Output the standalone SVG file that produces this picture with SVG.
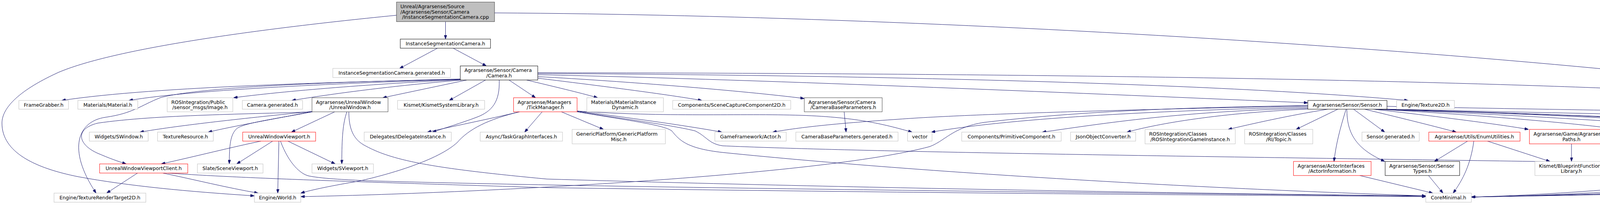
<svg xmlns="http://www.w3.org/2000/svg" width="5562" height="573" viewBox="0 0 5562 573">
<style>
.n rect{fill:#ffffff;stroke:#bfbfbf;stroke-width:1}
.d rect{stroke:#000000}
.g rect{stroke:#404040}
.r rect{stroke:#ff0000}
.root rect{fill:#bfbfbf;stroke:#404040}
text{font-family:"DejaVu Sans","Liberation Sans",sans-serif;font-size:12.6px;fill:#000000}
.m{text-anchor:middle}
#edges path{fill:none;stroke:#191970;stroke-width:1;marker-end:url(#ah)}
</style>
<defs>
<marker id="ah" markerWidth="10" markerHeight="7" refX="10" refY="3.5" orient="auto" markerUnits="userSpaceOnUse"><path d="M0,0L10,3.5L0,7z" fill="#191970" stroke="#191970" stroke-width="1"/></marker>
</defs>
<rect width="5562" height="573" fill="#ffffff"/>
<g id="edges">
<path d="M1140.5,55.3 L1140.5,100"/>
<path d="M1015,39 C600,80 280,130 150,185 C40,235 5,280 5,315 C5,390 90,430 200,452 C330,476 480,490 651,501"/>
<path d="M1266,33 C2500,40 4300,150 5315,331"/>
<path d="M1120,123.3 L1023,175"/>
<path d="M1160,123.3 L1245,168.7"/>
<path d="M1178.3,202 C900,210 400,220 158,257"/>
<path d="M1178.3,203 C900,212 500,228 330,257"/>
<path d="M1178.3,204 C1000,212 750,230 598,250"/>
<path d="M1182,204.7 C1000,220 850,240 747,257"/>
<path d="M1195,204.7 L980,250"/>
<path d="M1178.3,203 C800,210 500,225 410,250 C360,270 340,290 270,300 C200,310 170,380 246,494"/>
<path d="M1243,204.7 L1150,257"/>
<path d="M1278,204.7 C1280,260 1260,285 1220,300 C1180,315 1140,327 1107,338"/>
<path d="M1303,204.7 L1371,250"/>
<path d="M1348,204.7 C1420,222 1480,236 1530,250"/>
<path d="M1376.7,200 C1500,215 1700,240 1797,257"/>
<path d="M1376.7,196 C1600,208 1900,232 2059,252"/>
<path d="M1376.7,191 C2000,205 2800,240 3348,263"/>
<path d="M1376.7,188 C2200,192 3100,212 3605,257"/>
<path d="M1376.7,186 C3000,188 4400,212 5060,287 C5180,302 5245,325 5262,360 C5280,400 5230,430 5103,452 C4900,472 4300,492 3766.7,504"/>
<path d="M800,286 C650,292 400,293 250,315 C190,330 200,370 250,392 C280,405 300,412 323,419.3"/>
<path d="M800,285 C600,305 450,322 358,338"/>
<path d="M800,285 C700,305 600,322 533,338"/>
<path d="M800,286 C700,305 620,315 605,330 C590,345 587,370 587,419.3"/>
<path d="M857,286 L746,338"/>
<path d="M888,286 C878,315 875,350 875,419.3"/>
<path d="M893,286 C893,330 905,355 930,370 C1000,410 1100,430 1400,458 C2200,482 3200,497 3650,501"/>
<path d="M668,361 C600,375 500,400 413,419.3"/>
<path d="M698,361 L606,419.3"/>
<path d="M714,361 L711,494"/>
<path d="M737,361 L858,419.3"/>
<path d="M718,361 C740,420 770,445 790,450 C830,458 900,460 930,462 C1500,480 3000,495 3650,502"/>
<path d="M352,442.7 L273,494"/>
<path d="M417,442.7 C500,460 580,480 661,494"/>
<path d="M430,442.7 C600,455 900,465 1400,480 C2500,496 3300,500 3650,503"/>
<path d="M1330,286 C1250,305 1150,325 1094,338"/>
<path d="M1388,286 L1343,338"/>
<path d="M1437,286 L1545,331"/>
<path d="M1477.3,284 C1600,300 1750,320 1848,338"/>
<path d="M1477.3,284 C1700,300 1900,290 2050,295 C2200,300 2270,320 2335,338"/>
<path d="M1330,286 C1250,305 1200,330 1170,365 C1120,410 1000,445 920,463 C850,475 800,485 770,494"/>
<path d="M1477.3,285 C1600,305 1720,320 1780,335 C1810,350 1815,368 1850,373 C2300,393 3500,405 4834.3,427"/>
<path d="M1477.3,286 C1620,310 1700,320 1720,335 C1740,360 1760,380 1850,390 C2300,436 3000,480 3650,501"/>
<path d="M2161,286 L2166,338"/>
<path d="M3348,270 C3100,274 2800,280 2520,313 C2440,325 2420,360 2380,375 C2100,450 1200,495 770,503"/>
<path d="M3348,271 C3000,278 2500,290 2300,305 C2150,315 2050,325 1978,338"/>
<path d="M3348,274 C3000,282 2600,300 2384,338"/>
<path d="M3348,277 C3000,285 2800,320 2668,338"/>
<path d="M3348,279 C3100,290 2950,320 2885,338"/>
<path d="M3400,279.3 C3300,295 3200,318 3144,331"/>
<path d="M3425,279.3 L3318,331"/>
<path d="M3446,279.3 C3430,330 3420,370 3415,413"/>
<path d="M3448,279.3 C3448,340 3470,380 3545,413"/>
<path d="M3465,279.3 L3545,338"/>
<path d="M3493,279.3 C3600,305 3680,325 3728,338"/>
<path d="M3515,279.3 C3700,300 3850,320 3913,331"/>
<path d="M3520,279 C3800,295 4100,320 4188,338"/>
<path d="M3522,280 C3900,290 4200,300 4350,315 C4400,325 4420,380 4430,419.3"/>
<path d="M3526,279 C3900,295 4300,318 4447,338"/>
<path d="M3530,279 C4000,293 4500,320 4637,338"/>
<path d="M3536,279 C4100,295 4600,318 4823,332"/>
<path d="M3540,279 C4200,295 4900,300 5034,338"/>
<path d="M3550.7,272 C4200,285 4800,290 5060,307 C5180,320 5230,350 5290,400 C5260,407 5150,420 5060,435 C4800,470 4300,495 3766.7,504"/>
<path d="M3481,449 L3668,494"/>
<path d="M3657,449 L3694,494"/>
<path d="M3757,361 L3672,413"/>
<path d="M3773,361 C3765,420 3745,460 3720,494"/>
<path d="M3808,361 L3968,413"/>
<path d="M4023,368 L4023,413"/>
<path d="M5315.3,358 C5000,380 4400,400 4116,424"/>
<path d="M5315.3,363 C5150,380 5050,400 4966,418"/>
<path d="M5406,368 L5452,419.3"/>
<path d="M5380,368 C5330,420 5300,445 5290,452 C5200,465 4800,470 4600,487 C4300,495 4000,500 3766.7,504"/>
<path d="M4900,368 L4900,419.3"/>
<path d="M4857,368 C4750,410 4650,440 4600,448 C4300,485 4000,500 3766.7,504"/>
<path d="M4663,361 C4600,380 4530,400 4470,419.3"/>
<path d="M4685,361 C4650,390 4600,410 4590,418 C4400,470 4000,498 3766.7,504"/>
</g>
<g id="root" class="n root"><rect x="1015" y="5.3" width="251" height="50"/><text x="1025" y="21">Unreal/Agrarsense/Source</text><text x="1025" y="34.6">/Agrarsense/Sensor/Camera</text><text class="m" x="1140.5" y="48.3">/InstanceSegmentationCamera.cpp</text></g>
<g id="isc_h" class="n d"><rect x="1024.7" y="100" width="231" height="23.3"/><text class="m" x="1140.2" y="116">InstanceSegmentationCamera.h</text></g>
<g id="isc_gen" class="n"><rect x="852" y="175" width="301.3" height="23.3"/><text class="m" x="1002.7" y="191">InstanceSegmentationCamera.generated.h</text></g>
<g id="camera_h" class="n d"><rect x="1178.3" y="168.7" width="198.4" height="36"/><text x="1189" y="184.2">Agrarsense/Sensor/Camera</text><text class="m" x="1277.5" y="197.9">/Camera.h</text></g>
<g id="framegrabber" class="n"><rect x="48.3" y="257" width="127" height="22.3"/><text class="m" x="111.8" y="272.5">FrameGrabber.h</text></g>
<g id="material" class="n"><rect x="199.3" y="257" width="153.4" height="22.3"/><text class="m" x="276" y="272.5">Materials/Material.h</text></g>
<g id="image" class="n"><rect x="428" y="250" width="168" height="36"/><text x="438.5" y="265.5">ROSIntegration/Public</text><text class="m" x="512" y="279.2">/sensor_msgs/Image.h</text></g>
<g id="camera_gen" class="n"><rect x="620.3" y="257" width="154.4" height="22.3"/><text class="m" x="697.5" y="272.5">Camera.generated.h</text></g>
<g id="unrealwindow" class="n g"><rect x="798.7" y="250" width="194.6" height="36"/><text x="809" y="265.5">Agrarsense/UnrealWindow</text><text class="m" x="896" y="279.2">/UnrealWindow.h</text></g>
<g id="kismet" class="n"><rect x="1017.7" y="257" width="223" height="22.3"/><text class="m" x="1129.2" y="272.5">Kismet/KismetSystemLibrary.h</text></g>
<g id="tickmanager" class="n r"><rect x="1314.7" y="250" width="162.6" height="36"/><text x="1325" y="265.5">Agrarsense/Managers</text><text class="m" x="1396" y="279.2">/TickManager.h</text></g>
<g id="matinst" class="n"><rect x="1502.3" y="250" width="196" height="36"/><text x="1513" y="265.5">Materials/MaterialInstance</text><text class="m" x="1600.3" y="279.2">Dynamic.h</text></g>
<g id="scenecapture" class="n"><rect x="1722" y="257" width="302.3" height="22.3"/><text class="m" x="1873.2" y="272.5">Components/SceneCaptureComponent2D.h</text></g>
<g id="cbp" class="n g"><rect x="2059" y="250" width="199.3" height="36"/><text x="2069.5" y="265.5">Agrarsense/Sensor/Camera</text><text class="m" x="2158.7" y="279.2">/CameraBaseParameters.h</text></g>
<g id="sensor" class="n d"><rect x="3348" y="257" width="202.7" height="22.3"/><text class="m" x="3449.3" y="272.5">Agrarsense/Sensor/Sensor.h</text></g>
<g id="texture2d" class="n"><rect x="3575.3" y="257" width="148" height="22.3"/><text class="m" x="3649.3" y="272.5">Engine/Texture2D.h</text></g>
<g id="swindow" class="n"><rect x="228.7" y="338" width="150.6" height="23"/><text class="m" x="304" y="353.8">Widgets/SWindow.h</text></g>
<g id="texres" class="n"><rect x="403.3" y="338" width="142.7" height="23"/><text class="m" x="474.7" y="353.8">TextureResource.h</text></g>
<g id="uwv" class="n r"><rect x="621.3" y="338" width="186.7" height="23"/><text class="m" x="714.7" y="353.8">UnrealWindowViewport.h</text></g>
<g id="idelegate" class="n"><rect x="932.3" y="338" width="223" height="23"/><text class="m" x="1043.8" y="353.8">Delegates/IDelegateInstance.h</text></g>
<g id="taskgraph" class="n"><rect x="1229.3" y="338" width="210.7" height="23"/><text class="m" x="1334.7" y="353.8">Async/TaskGraphInterfaces.h</text></g>
<g id="genericplatform" class="n"><rect x="1464.7" y="331" width="238.6" height="37"/><text x="1475.2" y="347">GenericPlatform/GenericPlatform</text><text class="m" x="1584" y="360.7">Misc.h</text></g>
<g id="actor" class="n"><rect x="1830" y="338" width="182.7" height="23"/><text class="m" x="1921.3" y="353.8">GameFramework/Actor.h</text></g>
<g id="cbp_gen" class="n"><rect x="2037.3" y="338" width="261.7" height="23"/><text class="m" x="2168.2" y="353.8">CameraBaseParameters.generated.h</text></g>
<g id="vector" class="n"><rect x="2323.3" y="338" width="62.7" height="23"/><text class="m" x="2354.7" y="353.8">vector</text></g>
<g id="primitive" class="n"><rect x="2462" y="338" width="254.7" height="23"/><text class="m" x="2589.3" y="353.8">Components/PrimitiveComponent.h</text></g>
<g id="json" class="n"><rect x="2740.7" y="338" width="166.6" height="23"/><text class="m" x="2824" y="353.8">JsonObjectConverter.h</text></g>
<g id="rosgi" class="n"><rect x="2931.3" y="331" width="231" height="37"/><text x="2941.8" y="347">ROSIntegration/Classes</text><text class="m" x="3046.8" y="360.7">/ROSIntegrationGameInstance.h</text></g>
<g id="topic" class="n"><rect x="3186.3" y="331" width="174.4" height="37"/><text x="3196.8" y="347">ROSIntegration/Classes</text><text class="m" x="3273.5" y="360.7">/RI/Topic.h</text></g>
<g id="sensorgen" class="n"><rect x="3486.7" y="338" width="146.6" height="23"/><text class="m" x="3560" y="353.8">Sensor.generated.h</text></g>
<g id="enumutil" class="n r"><rect x="3657.7" y="338" width="233.6" height="23"/><text class="m" x="3774.5" y="353.8">Agrarsense/Utils/EnumUtilities.h</text></g>
<g id="paths" class="n r"><rect x="3915.3" y="331" width="215" height="37"/><text x="3925.8" y="347">Agrarsense/Game/Agrarsense</text><text class="m" x="4022.8" y="360.7">Paths.h</text></g>
<g id="sharedptr" class="n"><rect x="4154.7" y="338" width="194.6" height="23"/><text class="m" x="4252" y="353.8">Templates/SharedPointer.h</text></g>
<g id="objectptr" class="n"><rect x="4423.7" y="338" width="149.6" height="23"/><text class="m" x="4498.5" y="353.8">UObject/ObjectPtr.h</text></g>
<g id="rosstate" class="n g"><rect x="4597.3" y="338" width="202.7" height="23"/><text class="m" x="4698.7" y="353.8">Agrarsense/ROS/ROSState.h</text></g>
<g id="logfile" class="n r"><rect x="4824.7" y="331" width="150.6" height="37"/><text x="4835.2" y="347">Agrarsense/Logging</text><text class="m" x="4900" y="360.7">/LogFile.h</text></g>
<g id="unrealstring" class="n"><rect x="5000" y="338" width="189.3" height="23"/><text class="m" x="5094.7" y="353.8">Containers/UnrealString.h</text></g>
<g id="simlog" class="n d"><rect x="5315.3" y="331" width="150.7" height="37"/><text x="5325.8" y="347">Agrarsense/Logging</text><text class="m" x="5390.7" y="360.7">/SimulatorLog.h</text></g>
<g id="uwvc" class="n r"><rect x="255" y="419.3" width="225.7" height="23.4"/><text class="m" x="367.8" y="435.3">UnrealWindowViewportClient.h</text></g>
<g id="sceneviewport" class="n"><rect x="505.3" y="419.3" width="168" height="23.4"/><text class="m" x="589.3" y="435.3">Slate/SceneViewport.h</text></g>
<g id="sviewport" class="n"><rect x="798.7" y="419.3" width="157.3" height="23.4"/><text class="m" x="877.3" y="435.3">Widgets/SViewport.h</text></g>
<g id="actorinfo" class="n r"><rect x="3311.3" y="413" width="198.7" height="36"/><text x="3321.8" y="428.5">Agrarsense/ActorInterfaces</text><text class="m" x="3410.7" y="442.2">/ActorInformation.h</text></g>
<g id="sensortypes" class="n d"><rect x="3546" y="413" width="190.7" height="36"/><text x="3556.5" y="428.5">Agrarsense/Sensor/Sensor</text><text class="m" x="3641.3" y="442.2">Types.h</text></g>
<g id="blueprint" class="n"><rect x="3929.3" y="413" width="186.7" height="36"/><text x="3939.8" y="428.5">Kismet/BlueprintFunction</text><text class="m" x="4022.7" y="442.2">Library.h</text></g>
<g id="enginetypes" class="n"><rect x="4354.7" y="419.3" width="162.6" height="23.4"/><text class="m" x="4436" y="435.3">Engine/EngineTypes.h</text></g>
<g id="object" class="n"><rect x="4834.3" y="419.3" width="131.7" height="23.4"/><text class="m" x="4900.2" y="435.3">UObject/Object.h</text></g>
<g id="simloggen" class="n"><rect x="5366" y="419.3" width="190.7" height="23.4"/><text class="m" x="5461.3" y="435.3">SimulatorLog.generated.h</text></g>
<g id="trt2d" class="n"><rect x="138.3" y="494" width="235" height="23.3"/><text class="m" x="255.8" y="510">Engine/TextureRenderTarget2D.h</text></g>
<g id="world" class="n"><rect x="651.3" y="494" width="118.7" height="23.3"/><text class="m" x="710.7" y="510">Engine/World.h</text></g>
<g id="coreminimal" class="n"><rect x="3650" y="494" width="116.7" height="23.3"/><text class="m" x="3708.3" y="510">CoreMinimal.h</text></g>
</svg>
